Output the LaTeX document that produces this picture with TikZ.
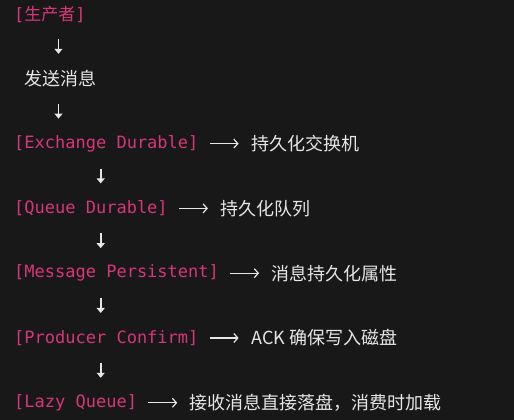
\documentclass[tikz,border=0pt]{standalone}
\usepackage{fontspec}
\setmonofont{DejaVu Sans Mono}
\newfontfamily\cjk{Noto Sans CJK SC}
\usetikzlibrary{arrows.meta,positioning}
\definecolor{codebg}{HTML}{181818}
\definecolor{tagpink}{HTML}{D6367A}
\definecolor{plain}{HTML}{E6E6E6}
\begin{document}
\begin{tikzpicture}[x=1pt,y=1pt,
    tag/.style={anchor=west,inner sep=0pt,text=tagpink,font=\ttfamily\fontsize{17}{17}\selectfont},
    note/.style={anchor=west,inner sep=0pt,text=plain,font=\cjk\fontsize{18}{18}\selectfont},
    down/.style={draw=plain,line width=1.8pt,-{Triangle[length=5pt,width=8pt]},shorten <=25pt,shorten >=25pt},
    side/.style={draw=plain,line width=1.2pt,-{Straight Barb[length=4pt,width=9pt]},shorten <=11pt,shorten >=12.5pt}]
                \fill[codebg] (0,0) rectangle (514,420);
                \coordinate (c1) at (58.5,0);
                \coordinate (c2) at (100.7,0);

                \node[tag] (pc) at (14,406) {[{\cjk 生产者}]};
                \node[note] (send) at (24,341.2) {发送消息};
                \node[tag] (ex) at (14,276.4) {[Exchange Durable]};
                \node[tag] (qu) at (14,211.6) {[Queue Durable]};
                \node[tag] (mp) at (14,146.8) {[Message Persistent]};
                \node[tag] (cf) at (14,82) {[Producer Confirm]};
                \node[tag] (lz) at (14,17.2) {[Lazy Queue]};

                \node[note,right=52.5pt of ex] (exd) {持久化交换机};
                \node[note,right=52.5pt of qu] (qud) {持久化队列};
                \node[note,right=52.5pt of mp] (mpd) {消息持久化属性};
                \node[note,right=52.5pt of cf] (cfd) {ACK 确保写入磁盘};
                \node[note,right=52.5pt of lz] (lzd) {接收消息直接落盘，消费时加载};

                \draw[down] (pc -| c1) -- (send -| c1);
                \draw[down] (send -| c1) -- (ex -| c1);
                \draw[down] (ex -| c2) -- (qu -| c2);
                \draw[down] (qu -| c2) -- (mp -| c2);
                \draw[down] (mp -| c2) -- (cf -| c2);
                \draw[down] (cf -| c2) -- (lz -| c2);

                \draw[side] (ex) -- (exd);
                \draw[side] (qu) -- (qud);
                \draw[side] (mp) -- (mpd);
                \draw[side] (cf) -- (cfd);
                \draw[side] (lz) -- (lzd);
            \end{tikzpicture}
\end{document}
